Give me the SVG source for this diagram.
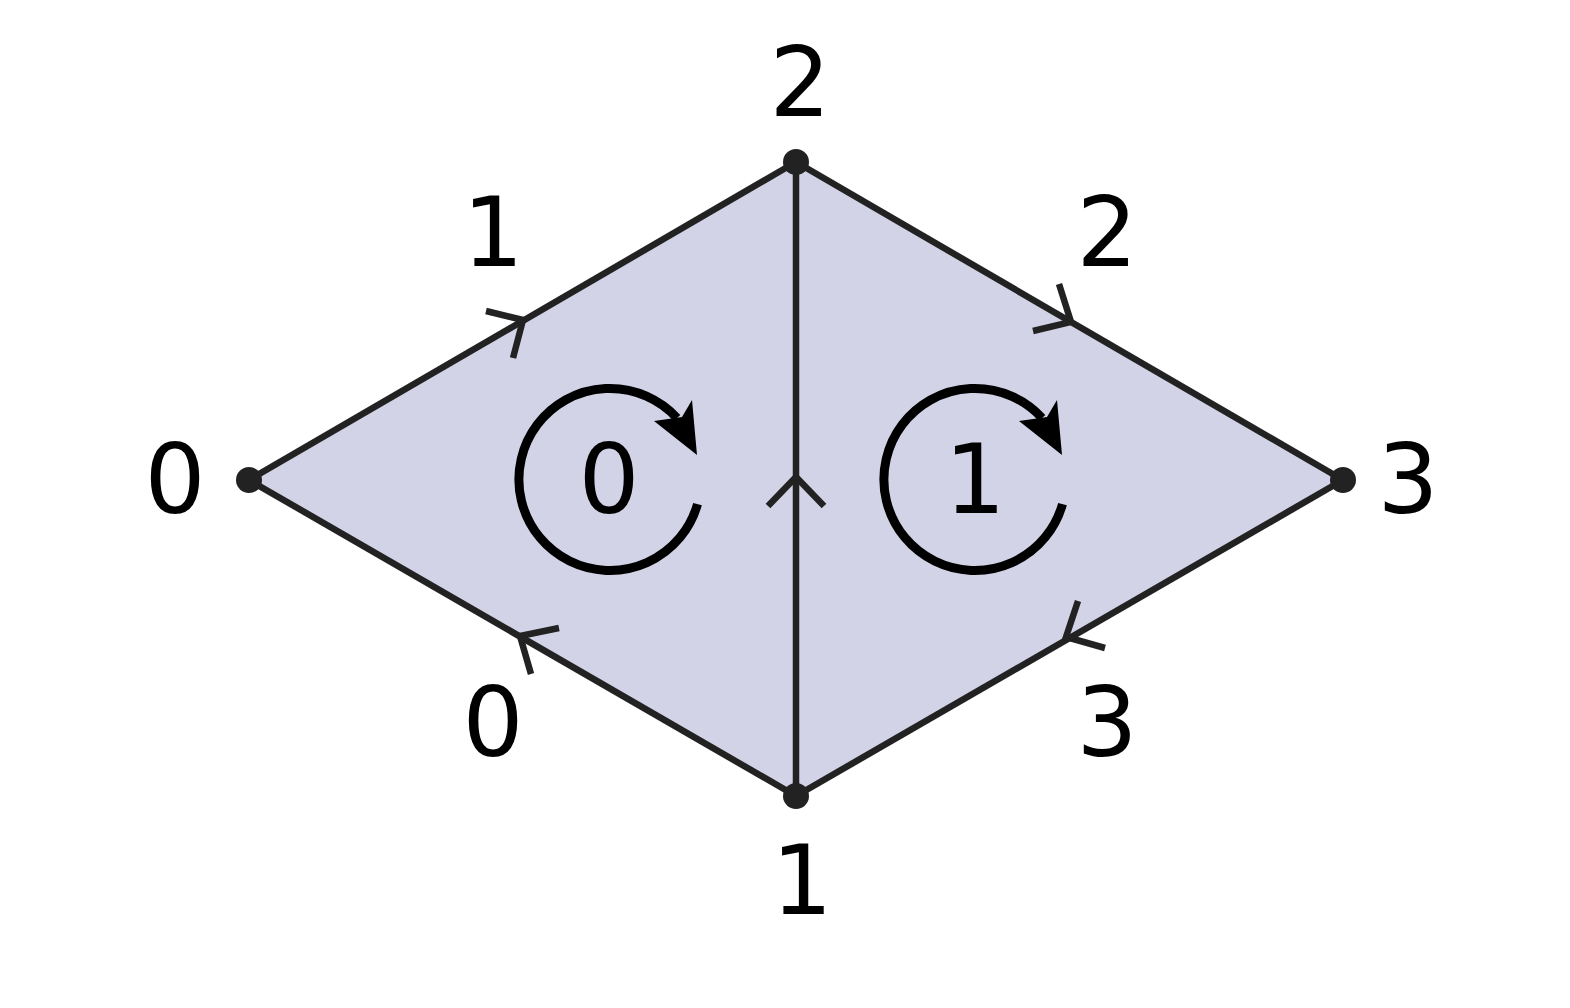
<svg xmlns="http://www.w3.org/2000/svg" width="1570" height="1008" viewBox="0 0 1570 1008">
<defs>
<style>
.edge{stroke:#222;stroke-width:6.5;fill:none;stroke-linecap:butt}
.tick{stroke:#222;stroke-width:6.5;fill:none}
.dot{fill:#222}
.lbl{font-family:"DejaVu Sans","Liberation Sans",sans-serif;font-size:96px;fill:#000;text-anchor:middle}
.rot{stroke:#000;stroke-width:9;fill:none}
.head{fill:#000}
</style>
<g id="rotarrow">
<path class="rot" d="M 697.5 504.1 A 91 91 0 1 1 677 418"/>
<path class="head" d="M 697 455 L 692 400 L 682 417 L 654 421 Z"/>
</g>
</defs>
<rect width="1570" height="1008" fill="#fff"/>
<g id="faces">
<polygon id="face0" points="249,480 796,162 796,796" fill="#d2d3e6"/>
<polygon id="face1" points="796,162 1343,480 796,796" fill="#d2d3e6"/>
</g>
<g id="connectors">
<line class="edge" x1="249" y1="480" x2="796" y2="162"/>
<line class="edge" x1="796" y1="796" x2="249" y2="480"/>
<line class="edge" x1="796" y1="162" x2="1343" y2="480"/>
<line class="edge" x1="1343" y1="480" x2="796" y2="796"/>
<line class="edge" x1="796" y1="796" x2="796" y2="162"/>
<polyline class="tick" points="486,311 523,320 513,358"/>
<polyline class="tick" points="559,628 520,636 531,674"/>
<polyline class="tick" points="1059,284 1071,322 1033,331"/>
<polyline class="tick" points="1078,601 1066,637 1105,648"/>
<polyline class="tick" points="768,506 796,477 824,506"/>
</g>
<g id="v0"><circle class="dot" cx="249" cy="480" r="13"/><text class="lbl" x="175" y="513">0</text></g>
<g id="v1"><circle class="dot" cx="796" cy="796" r="13"/><text class="lbl" x="802" y="914">1</text></g>
<g id="v2"><circle class="dot" cx="796" cy="162" r="13"/><text class="lbl" x="800" y="116">2</text></g>
<g id="v3"><circle class="dot" cx="1343" cy="480" r="13"/><text class="lbl" x="1408" y="513">3</text></g>
<g id="elabels">
<text class="lbl" x="493" y="266">1</text>
<text class="lbl" x="1107" y="266">2</text>
<text class="lbl" x="493" y="756">0</text>
<text class="lbl" x="1107" y="756">3</text>
</g>
<g id="f0"><use href="#rotarrow"/><text class="lbl" x="609" y="513">0</text></g>
<g id="f1"><use href="#rotarrow" transform="translate(365,0)"/><text class="lbl" x="975" y="513">1</text></g>
</svg>
